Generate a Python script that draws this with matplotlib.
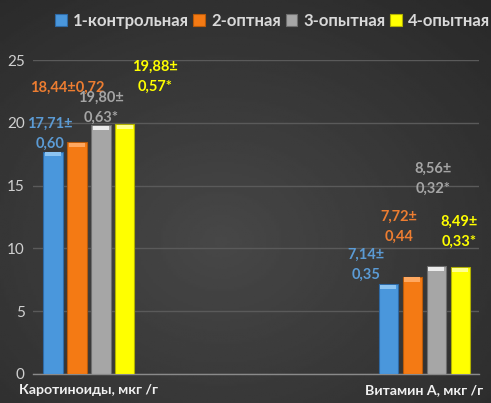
import matplotlib.pyplot as plt
import numpy as np

# данные
categories = ['Каротиноиды, мкг /г', 'Витамин А, мкг /г']
groups = ['1-контрольная', '2-оптная', '3-опытная', '4-опытная']
values = [
    [17.71, 7.14],
    [18.44, 7.72],
    [19.80, 8.56],
    [19.88, 8.49],
]
labels = [
    ['17,71±\n0,60', '7,14±\n0,35'],
    ['18,44±0,72', '7,72±\n0,44'],
    ['19,80±\n0,63*', '8,56±\n0,32*'],
    ['19,88±\n0,57*', '8,49±\n0,33*'],
]
# сдвиги подписей (пиксели) относительно верха столбца
label_offsets = [
    [(-3, 18), (-22, 20)],
    [(-10, 55), (-13, 50)],
    [(0, 18), (-3, 88)],
    [(30, 48), (-1, 36)],
]
colors = ['#4a97dc', '#f47a14', '#a6a6a6', '#ffff00']
cap_colors = ['#8cc4f2', '#ffa860', '#ececec', '#ffff90']
edge_colors = ['#2e6aa6', '#b85a0a', '#6e6e6e', '#b0b000']
text_colors = ['#5b9bd5', '#ed7d31', '#a5a5a5', '#ffff00']

font = ['Lato', 'Noto Sans']
plt.rcParams['font.family'] = font

fig = plt.figure(figsize=(4.91, 4.03), dpi=100)

# фон с радиальным градиентом
bg = fig.add_axes([0, 0, 1, 1], zorder=-1)
yy, xx = np.mgrid[0:1:200j, 0:1:200j]
r = np.sqrt(((xx - 0.45) / 0.8) ** 2 + ((yy - 0.4) / 0.8) ** 2)
bg.imshow(0.28 - 0.12 * r, cmap='gray', vmin=0, vmax=1, extent=[0, 1, 0, 1],
          aspect='auto', origin='lower')
bg.axis('off')

ax = fig.add_axes([0.0672, 0.072, 0.9084, 0.779])
ax.set_facecolor('none')

x = np.arange(len(categories))
step = 0.0716
width = 0.057
for i, g in enumerate(groups):
    xs = x + (i - 1.5) * step
    ax.bar(xs, values[i], width, color=colors[i], edgecolor=edge_colors[i],
           linewidth=0.8, label=g, zorder=3)
    # светлая "фаска" сверху
    ax.bar(xs, 0.34, width * 0.82, bottom=np.array(values[i]) - 0.36,
           color=cap_colors[i], linewidth=0, zorder=4)
    for j in range(len(categories)):
        dx, dy = label_offsets[i][j]
        ax.annotate(labels[i][j], (xs[j], values[i][j]), xytext=(dx, dy),
                    textcoords='offset pixels', ha='center', va='center',
                    color=text_colors[i], fontsize=10.5, fontweight='bold',
                    linespacing=1.55, zorder=5)

ax.set_xlim(-0.167, 1.164)
ax.set_ylim(0, 25)
ax.set_yticks([0, 5, 10, 15, 20, 25])
ax.set_xticks(x)
ax.set_xticklabels(categories, fontweight='bold', fontsize=10.2, color='#f0f0f0')
ax.tick_params(axis='y', colors='#d0d0d0', labelsize=11, length=0, pad=6)
ax.tick_params(axis='x', length=0, pad=7)
ax.grid(axis='y', color='#5a5a5a', linewidth=1)
ax.set_axisbelow(True)
for s in ['top', 'right', 'left']:
    ax.spines[s].set_visible(False)
ax.spines['bottom'].set_color('#8a8a8a')
ax.spines['bottom'].set_linewidth(1)

fig.legend(loc='center left', bbox_to_anchor=(55 / 491, 1 - 21 / 403), ncol=4,
           frameon=False, handlelength=0.7, handleheight=0.7, handletextpad=0.35,
           columnspacing=0.3, borderpad=0, borderaxespad=0,
           prop={'weight': 'bold', 'size': 12}, labelcolor='#d9d9d9')

fig.savefig('out.png', dpi=100)
